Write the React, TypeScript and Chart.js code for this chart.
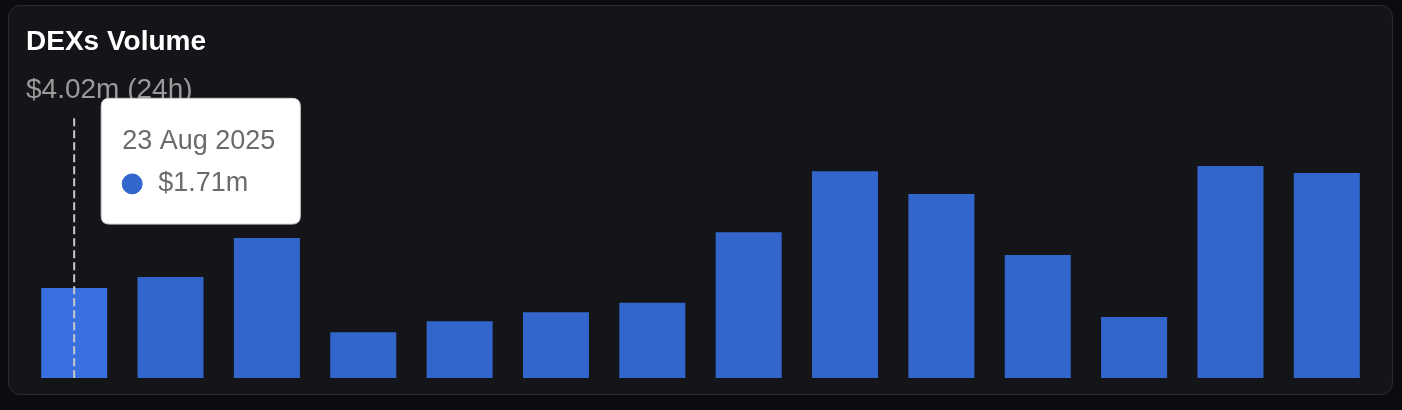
import { useEffect, useRef } from 'react';
import { Chart, registerables, Tooltip } from 'chart.js';

Chart.register(...registerables);

// daily DEX volume, $m
const days = [
  '23 Aug 2025', '24 Aug 2025', '25 Aug 2025', '26 Aug 2025', '27 Aug 2025',
  '28 Aug 2025', '29 Aug 2025', '30 Aug 2025', '31 Aug 2025', '01 Sep 2025',
  '02 Sep 2025', '03 Sep 2025', '04 Sep 2025', '05 Sep 2025',
];
const volumes = [1.71, 1.92, 2.66, 0.87, 1.08, 1.25, 1.43, 2.77, 3.93, 3.5, 2.34, 1.16, 4.03, 3.9];
const volume24h = '$4.02m';
const yMax = 4.94;

const BAR = '#3366cc';
const BAR_HOVER = '#3a6fdf';
const FONT = 'Liberation Sans, Arial, sans-serif';

(Tooltip.positioners as any).fixedTop = function (items: any[]) {
  if (!items.length) return false;
  const chart = (this as any).chart;
  return { x: items[0].element.x, y: chart.chartArea.top + 43 };
};

const hoverLine = {
  id: 'hoverLine',
  afterDatasetsDraw(chart: Chart) {
    const active = chart.tooltip?.getActiveElements() ?? [];
    if (!active.length) return;
    const x = active[0].element.x;
    const { top, bottom } = chart.chartArea;
    const ctx = chart.ctx;
    ctx.save();
    ctx.strokeStyle = '#c8c8c8';
    ctx.lineWidth = 2;
    ctx.setLineDash([8, 4]);
    ctx.beginPath();
    ctx.moveTo(x, top);
    ctx.lineTo(x, bottom);
    ctx.stroke();
    ctx.restore();
  },
};

export default function App() {
  const canvasRef = useRef<HTMLCanvasElement>(null);
  const chartRef = useRef<Chart | null>(null);

  useEffect(() => {
    document.body.style.margin = '0';
    if (!canvasRef.current) return;
    if (chartRef.current) chartRef.current.destroy();

    const chart = new Chart(canvasRef.current, {
      type: 'bar',
      data: {
        labels: days,
        datasets: [
          {
            label: 'Volume',
            data: volumes,
            backgroundColor: BAR,
            hoverBackgroundColor: BAR_HOVER,
            borderWidth: 0,
            barPercentage: 0.685,
            categoryPercentage: 1,
          },
        ],
      },
      plugins: [hoverLine],
      options: {
        responsive: true,
        maintainAspectRatio: false,
        animation: false,
        layout: { padding: { left: 17, right: 17, top: 0, bottom: 16 } },
        scales: {
          x: { display: false },
          y: { display: false, min: 0, max: yMax },
        },
        plugins: {
          legend: { display: false },
          title: {
            display: true,
            text: 'DEXs Volume',
            align: 'start',
            color: '#ffffff',
            font: { family: FONT, size: 28, weight: 'bold', lineHeight: 1.2 },
            padding: { top: 19, bottom: 8 },
          },
          subtitle: {
            display: true,
            text: `${volume24h} (24h)`,
            align: 'start',
            color: '#9a9a9a',
            font: { family: FONT, size: 28, lineHeight: 1.2 },
            padding: { top: 7, bottom: 11 },
          },
          tooltip: {
            position: 'fixedTop' as any,
            xAlign: 'left',
            yAlign: 'center',
            caretSize: 0,
            caretPadding: 27,
            backgroundColor: '#ffffff',
            borderColor: '#cfcfcf',
            borderWidth: 1,
            cornerRadius: 8,
            titleColor: '#6b6b6b',
            bodyColor: '#6b6b6b',
            titleFont: { family: FONT, size: 27, weight: 'normal' },
            bodyFont: { family: FONT, size: 27 },
            titleMarginBottom: 10,
            padding: { top: 27, bottom: 24, left: 21, right: 25 },
            usePointStyle: true,
            boxWidth: 20,
            boxHeight: 20,
            boxPadding: 14,
            callbacks: {
              label: (item) => `$${(item.raw as number).toFixed(2)}m`,
              labelColor: () => ({ borderColor: BAR, backgroundColor: BAR }),
              labelPointStyle: () => ({ pointStyle: 'circle', rotation: 0 }),
            },
          },
        },
      },
    });
    chartRef.current = chart;

    const active = [{ datasetIndex: 0, index: 0 }];
    chart.setActiveElements(active);
    chart.tooltip?.setActiveElements(active, { x: 0, y: 0 });
    chart.update();

    return () => {
      chartRef.current?.destroy();
      chartRef.current = null;
    };
  }, []);

  return (
    <div style={{ position: 'relative', width: 1402, height: 410, background: '#0b0c0f' }}>
      <div
        style={{
          position: 'absolute',
          left: 8,
          top: 5,
          width: 1383,
          height: 388,
          background: '#141518',
          border: '1px solid #2a2c30',
          borderRadius: 12,
        }}
      >
        <canvas ref={canvasRef} />
      </div>
    </div>
  );
}
